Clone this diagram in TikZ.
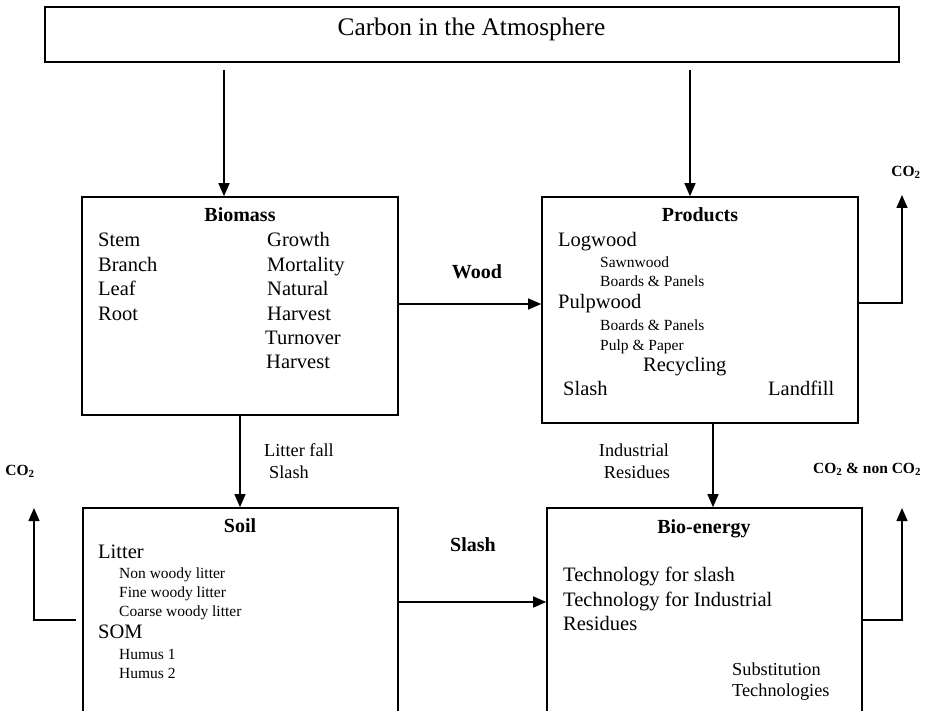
\documentclass[tikz,border=0pt]{standalone}
\usepackage{fontspec}
\setmainfont{Liberation Serif}
\usetikzlibrary{arrows.meta}
\begin{document}
\begin{tikzpicture}[x=1pt,y=-1pt,
  box/.style={draw,line width=1.6pt,rectangle,inner sep=0pt},
  arr/.style={line width=1.5pt,-{Triangle[width=11pt,length=13pt]}},
  txt/.style={anchor=west,inner sep=0pt,text height=0.66em,text depth=0pt},
  ctxt/.style={anchor=center,inner sep=0pt,text height=0.66em,text depth=0pt},
  big/.style={font=\fontsize{20.5}{24}\selectfont},
  med/.style={font=\fontsize{18.3}{22}\selectfont},
  sml/.style={font=\fontsize{15.5}{18}\selectfont},
  head/.style={font=\fontsize{20}{24}\selectfont\bfseries},
  co/.style={font=\fontsize{15.5}{18}\selectfont\bfseries}
]
\useasboundingbox (0,0) rectangle (930,711);
\clip (0,0) rectangle (930,711);
\fill[white] (0,0) rectangle (930,711);

% boxes
\node[box,minimum width=854pt,minimum height=55pt] (top) at (472,34.5) {};
\node[ctxt,font=\fontsize{25.3}{30}\selectfont] (toptxt) at (471.5,32) {Carbon in the Atmosphere};
\node[box,minimum width=316pt,minimum height=218pt] (bm) at (240,306) {};
\node[box,minimum width=316pt,minimum height=226pt] (prod) at (700,310) {};
\node[box,minimum width=315pt,minimum height=220pt] (soil) at (240.5,618) {};
\node[box,minimum width=315pt,minimum height=220pt] (bio) at (704.5,618) {};

% biomass content
\node[ctxt,head] (bmh) at (240,218) {Biomass};
\node[txt,big] (b1) at (98,243) {Stem};
\node[txt,big] (b2) at (98,268) {Branch};
\node[txt,big] (b3) at (98,292) {Leaf};
\node[txt,big] (b4) at (98,317) {Root};
\node[txt,big] (b5) at (267,243) {Growth};
\node[txt,big] (b6) at (267,268) {Mortality};
\node[txt,big] (b7) at (267,292) {Natural};
\node[txt,big] (b8) at (267,317) {Harvest};
\node[txt,big] (b9) at (265,341) {Turnover};
\node[txt,big] (b10) at (266,365) {Harvest};

% products content
\node[ctxt,head] (ph) at (700,218) {Products};
\node[txt,big] (p1) at (558,243) {Logwood};
\node[txt,sml] (p2) at (600,264) {Sawnwood};
\node[txt,sml] (p3) at (600,283) {Boards \& Panels};
\node[txt,big] (p4) at (558,305) {Pulpwood};
\node[txt,sml] (p5) at (600,327) {Boards \& Panels};
\node[txt,sml] (p6) at (600,347) {Pulp \& Paper};
\node[txt,big] (p7) at (643,368) {Recycling};
\node[txt,big] (p8) at (563,392) {Slash};
\node[txt,big] (p9) at (768,392) {Landfill};

% soil content
\node[ctxt,head] (sh) at (240,529) {Soil};
\node[txt,big] (s1) at (98,555) {Litter};
\node[txt,sml] (s2) at (119,575) {Non woody litter};
\node[txt,sml] (s3) at (119,594) {Fine woody litter};
\node[txt,sml] (s4) at (119,613) {Coarse woody litter};
\node[txt,big] (s5) at (98,635) {SOM};
\node[txt,sml] (s6) at (119,656) {Humus 1};
\node[txt,sml] (s7) at (119,675) {Humus 2};

% bio-energy content
\node[ctxt,head] (eh) at (704,530) {Bio-energy};
\node[txt,big] (e1) at (563,578) {Technology for slash};
\node[txt,big] (e2) at (563,603) {Technology for Industrial};
\node[txt,big] (e3) at (563,627) {Residues};
\node[txt,med] (e4) at (732,672) {Substitution};
\node[txt,med] (e5) at (732,693) {Technologies};

% connectors
\draw[arr,shorten <=7pt] (top.south -| 224,0) -- (bm.north -| 224,0);
\draw[arr,shorten <=7pt] (top.south -| 690,0) -- (prod.north -| 690,0);
\draw[arr] (bm.east |- 0,304) -- (prod.west |- 0,304);
\node[ctxt,head] (wood) at (477,275) {Wood};
\draw[arr] (bm.south) -- (soil.north -| bm.south);
\node[txt,med] (lf1) at (264,453) {Litter fall};
\node[txt,med] (lf2) at (269,475) {Slash};
\draw[arr] (prod.south -| 713,0) -- (bio.north -| 713,0);
\node[ctxt,med] (ir1) at (634,453) {Industrial};
\node[ctxt,med] (ir2) at (637,475) {Residues};
\draw[arr] (soil.east |- 0,602) -- (bio.west |- 0,602);
\node[txt,head] (sl) at (450,548) {Slash};

\coordinate (c1) at (902,195);
\coordinate (c2) at (34,508);
\coordinate (c3) at (902,508);
\draw[arr] (prod.east |- 0,303) -| (c1);
\node[ctxt,co] (co1) at (906,173) {CO\textsubscript{2}};
\draw[arr,shorten <=6pt] (soil.west |- 0,620) -| (c2);
\node[ctxt,co] (co2) at (20,472) {CO\textsubscript{2}};
\draw[arr] (bio.east |- 0,620) -| (c3);
\node[ctxt,co] (co3) at (867,470) {CO\textsubscript{2} \& non CO\textsubscript{2}};
\end{tikzpicture}
\end{document}
